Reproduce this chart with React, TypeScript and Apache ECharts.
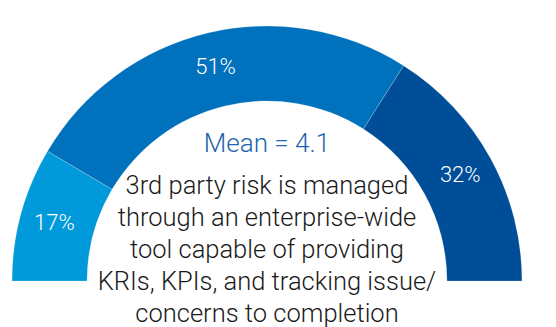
import React, { useEffect, useRef } from "react";
import * as echarts from "echarts";

const categories = ["Low", "Medium", "High"];
const shares = [17, 51, 32];
const colors = ["#009ADA", "#0071BC", "#004E98"];
const meanLabel = "Mean = 4.1";
const caption = [
  "3rd party risk is managed",
  "through an enterprise-wide",
  "tool capable of providing",
  "KRIs, KPIs, and tracking issue/",
  "concerns to completion",
];

export default function App() {
  const ref = useRef<HTMLDivElement>(null);
  useEffect(() => {
    if (!ref.current) return;
    const chart = echarts.init(ref.current, undefined, { renderer: "svg" });
    const total = shares.reduce((a, b) => a + b, 0);
    const data: any[] = shares.map((v, i) => ({
      name: categories[i],
      value: v,
      itemStyle: { color: colors[i] },
    }));
    data.push({
      name: "filler",
      value: total,
      itemStyle: { color: "transparent", borderWidth: 0 },
      label: { show: false },
      emphasis: { disabled: true },
    });
    chart.setOption({
      animation: false,
      series: [
        {
          type: "pie",
          center: [267, 281],
          radius: [180, 255],
          startAngle: 180,
          clockwise: true,
          avoidLabelOverlap: false,
          silent: true,
          itemStyle: { borderColor: "rgba(255,255,255,0.35)", borderWidth: 0.6 },
          label: {
            show: true,
            position: "inside",
            color: "#ffffff",
            fontSize: 22,
            fontFamily: "Roboto",
            fontWeight: 300,
            formatter: (p: any) => `${p.value}%`,
          },
          labelLine: { show: false },
          data,
        },
      ],
      graphic: [
        {
          type: "text",
          x: 267,
          y: 143,
          style: {
            text: meanLabel,
            textAlign: "center",
            textVerticalAlign: "middle",
            fill: "#2065AE",
            fontSize: 26,
            fontFamily: "Roboto",
            fontWeight: 300,
          },
        },
        {
          type: "text",
          x: 267,
          y: 249,
          style: {
            text: caption.join("\n"),
            textAlign: "center",
            textVerticalAlign: "middle",
            fill: "#1a1a1a",
            fontSize: 25.5,
            lineHeight: 32,
            fontFamily: "Roboto",
            fontWeight: 300,
          },
        },
      ],
    });
    return () => chart.dispose();
  }, []);
  return (
    <div
      ref={ref}
      style={{ position: "absolute", left: 0, top: 0, width: 556, height: 327, background: "#fff" }}
    />
  );
}
